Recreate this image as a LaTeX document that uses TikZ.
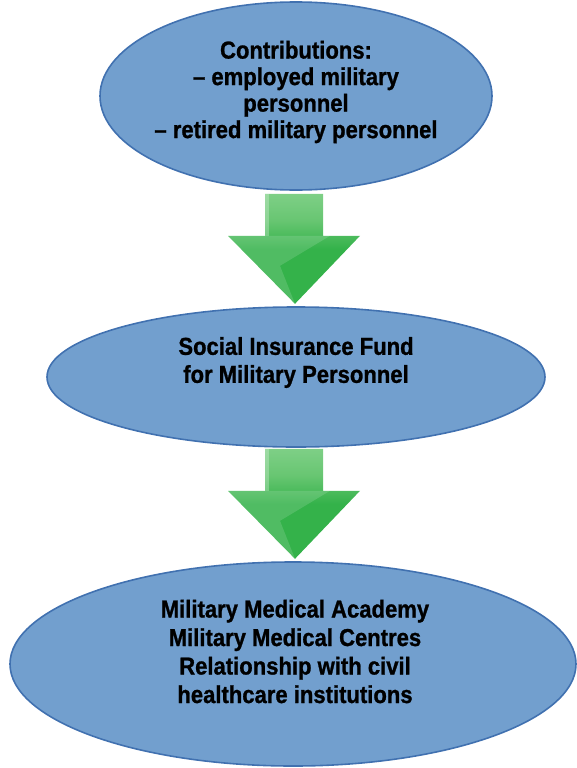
\documentclass[tikz,border=0pt]{standalone}
\usepackage{fontspec}
\setmainfont{Liberation Sans}[FakeStretch=0.9, BoldFeatures={FakeBold=1}]
\usetikzlibrary{shapes.geometric,calc}

\definecolor{ovalfill}{RGB}{114,159,206}
\definecolor{ovaldraw}{RGB}{65,113,176}
\definecolor{arrowlight}{RGB}{172,226,176}
\definecolor{arrowmid}{RGB}{104,198,114}
\definecolor{arrowdark}{RGB}{52,178,74}

% vertical green gradient for the block arrows (0bp = bottom)
\pgfdeclareverticalshading{greenarrow}{100bp}{%
  color(0bp)=(arrowdark); color(50bp)=(arrowdark);
  color(63bp)=(arrowmid); color(100bp)=(arrowlight)}

\begin{document}
\begin{tikzpicture}[x=1bp,y=-1bp,
  oval/.style={ellipse, draw=ovaldraw, fill=ovalfill, line width=1.6bp, inner sep=0pt},
  ovaltext/.style={align=center, inner sep=0pt,
    font=\bfseries\fontsize{24.5bp}{#1}\selectfont},
  bigarrow/.pic={
    \shade[shading=greenarrow]
      (-29,0) -- (29,0) -- (29,42) -- (66,42) -- (1,110) -- (-66,42) -- (-29,42) -- cycle;
    % lighter facet on the upper left of the arrow head
    \fill[white, opacity=0.14]
      (-66,42) -- (36,42) -- (-14,72) -- (1,110) -- cycle;
    % soft highlight along the left edge of the shaft
    \fill[white, opacity=0.25] (-29,0) -- (-25,0) -- (-25,42) -- (-29,42) -- cycle;
  }]
\useasboundingbox (0,0) rectangle (577,768);

% ellipses
\node[oval, minimum width=392bp, minimum height=188bp] (contrib) at (296,96) {};
\node[oval, minimum width=498bp, minimum height=140bp] (fund) at (296,377) {};
\node[oval, minimum width=566bp, minimum height=204bp] (health) at (293,664) {};

% texts
\node[ovaltext=26.5bp] (contribtext) at (296,92)
  {Contributions:\\– employed military\\personnel\\– retired military personnel};
\node[ovaltext=28bp] (fundtext) at (296,362.5)
  {Social Insurance Fund\\for Military Personnel};
\node[ovaltext=28.5bp] (healthtext) at (295,651.5)
  {Military Medical Academy\\Military Medical Centres\\Relationship with civil\\healthcare institutions};

% block arrows between the ellipses
\pic at ($(contrib.south)+(-2,3)$) {bigarrow};
\pic at ($(fund.south)+(-2,1)$) {bigarrow};
\end{tikzpicture}
\end{document}
